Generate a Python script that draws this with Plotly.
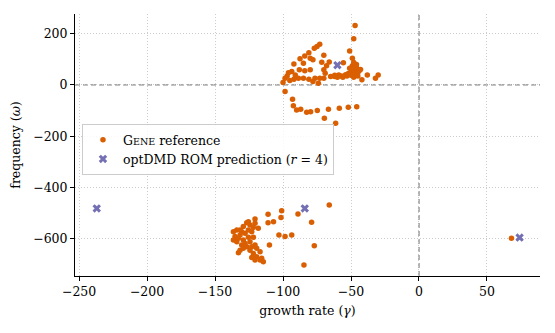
import plotly.graph_objects as go

# GENE reference eigenvalues: growth rate (gamma) and frequency (omega)
gene_gamma = [
    -47, -48, -51, -49, -73, -75, -77, -81, -84, -87.5, -92, -85, -80, -78, -70, -71.5,
    -88, -84, -80, -70, -69, -96, -93.6, -91, -88.7, -85, -81, -76.5, -78, -74, -73, -70,
    -98.5, -95, -92, -65, -62, -59, -55.6, -42, -38, -32, -30,
    -98.5, -93, -92.4, -90, -87, -82.6, -79.7, -74.8, -69.6, -66.6, -61.3, -58.6, -52, -45.8,
    -57, -54, -52, -50, -48, -47, -46, -49, -51, -53, -50, -47, -45, -44, -56, -60, -62,
    -48, -45, -43, -46, -48, -100, -97, -66, -68,
    -66, -101, -111, -89, -101.5, -107, -111, -120.6, -120.6, -125.5, -79, -103, -98.5,
    -93.6, -110, -77, -84.6,
    -126.7, -124.3, -121.8, -118.2, -129.2, -134, -136.5, -131.6, -125.5, -123, -127.9,
    -131.6, -135.3, -136.5, -134, -129.2, -125.5, -121.8, -130.4, -126.7, -123, -120.6,
    -119.4, -131.6, -132.8, -124.3, -121.8, -119.4, -123, -120.6, -116.9, -114.5, -115.7,
    -116.9, -129.2, -127.9, -124.3, -132.8, -130.4,
    68,
]
gene_omega = [
    232, 180, 133, 104, 159, 150, 143, 126, 113, 102, 82, 85, 104, 98, 116, 89,
    59, 55, 59, 59, 46, 48, 52, 39, 26, 26, 22, 26, 13, 7, 26, 26,
    26, 17, 22, 33, 33, 39, 87, 20, 39, 26, 39,
    -26, -56, -81, -98, -95, -107, -105, -100, -130, -95, -150, -91, -87, -85,
    35, 40, 45, 50, 55, 62, 70, 75, 65, 35, 38, 42, 48, 55, 30, 30, 38,
    30, 35, 60, 80, 88, 10, 35, 90, 75,
    -469, -491, -505, -504, -518, -534, -538, -523, -540, -534, -536, -586, -592,
    -586, -625, -628, -703,
    -538, -547, -556, -560, -553, -566, -573, -566, -566, -573, -579,
    -586, -592, -605, -612, -605, -595, -595, -625, -632, -632, -625,
    -638, -645, -655, -645, -658, -671, -674, -684, -684, -690, -677,
    -651, -638, -619, -612, -599, -573,
    -599,
]

# optDMD ROM prediction (r = 4)
rom_gamma = [-237, -84, -60, 74]
rom_omega = [-482, -482, 77, -596]

x_ticks = [-250, -200, -150, -100, -50, 0, 50]
y_ticks = [-600, -400, -200, 0, 200]

FONT = "DejaVu Serif, Liberation Serif, serif"
FS = 12.5

fig = go.Figure()
fig.add_trace(go.Scatter(
    x=gene_gamma, y=gene_omega, mode="markers",
    name="G<span style='font-size:9.5px'>ENE</span> reference",
    marker=dict(color="#d95f02", size=5.5, line=dict(width=0)),
))
fig.add_trace(go.Scatter(
    x=rom_gamma, y=rom_omega, mode="markers",
    name="optDMD ROM prediction (<i>r</i> = 4)",
    marker=dict(color="#7570b3", size=7.5, symbol="x", line=dict(width=0)),
))

# dashed reference lines at zero
fig.add_shape(type="line", xref="x", yref="paper", x0=0, x1=0, y0=0, y1=1,
              line=dict(color="#888888", width=1.3, dash="5px,3px"), layer="below")
fig.add_shape(type="line", xref="paper", yref="y", x0=0, x1=1, y0=0, y1=0,
              line=dict(color="#888888", width=1.3, dash="5px,3px"), layer="below")

axis_common = dict(
    showline=True, linecolor="black", linewidth=1, mirror=False, automargin=False,
    ticks="outside", ticklen=4, tickwidth=1, tickcolor="black",
    showgrid=True, gridcolor="#cccccc", griddash="1px,2px", gridwidth=1,
    zeroline=False, tickfont=dict(family=FONT, size=FS, color="black"),
)

fig.update_xaxes(range=[-253, 89], tickvals=x_ticks,
                 ticktext=[("\u2212" + str(-v)) if v < 0 else str(v) for v in x_ticks],
                 title=dict(text="growth rate (<i>γ</i>)", font=dict(family=FONT, size=FS, color="black"), standoff=8),
                 **axis_common)
fig.update_yaxes(range=[-746, 277], tickvals=y_ticks,
                 ticktext=[("\u2212" + str(-v)) if v < 0 else str(v) for v in y_ticks],
                 title=dict(text="frequency (<i>ω</i>)", font=dict(family=FONT, size=FS, color="black"), standoff=12),
                 **axis_common)

# page body has an 8px margin: figure is sized/placed to compensate
fig.update_layout(
    width=547, height=325,
    margin=dict(l=67, r=15, t=6, b=57),
    plot_bgcolor="white", paper_bgcolor="white",
    font=dict(family=FONT, size=FS, color="black"),
    legend=dict(x=0.015, y=0.58, xanchor="left", yanchor="top",
                bgcolor="rgba(255,255,255,0.85)", bordercolor="#cccccc", borderwidth=1,
                font=dict(family=FONT, size=FS, color="black"), itemwidth=30),
    showlegend=True,
)

fig.write_html("out.html")
